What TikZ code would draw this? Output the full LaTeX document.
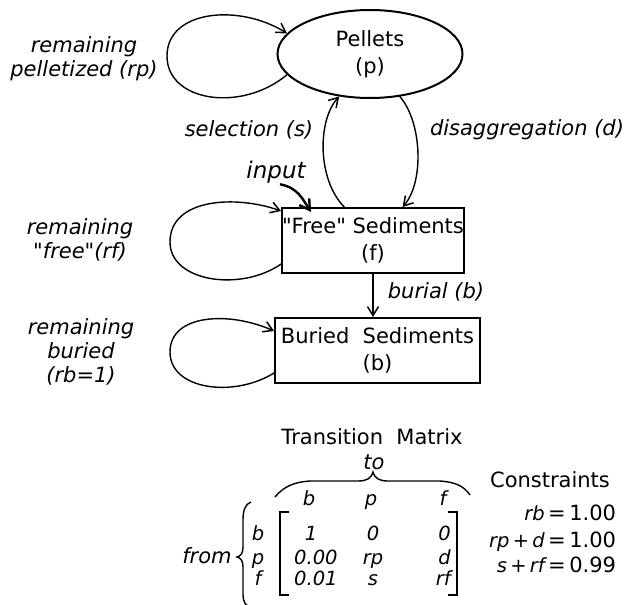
\documentclass[tikz,border=0pt]{standalone}
\usepackage{fontspec}
\setmainfont{DejaVu Sans}
\usetikzlibrary{shapes.geometric,arrows.meta,calc}
\begin{document}
\begin{tikzpicture}[x=1pt,y=1pt,
  outline/.style={draw, line width=2pt, inner sep=0pt},
  link/.style={line width=1.4pt, -{Straight Barb[length=9pt,width=11pt,line width=1.5pt]}},
  feed/.style={line width=2.4pt, -{Straight Barb[length=10pt,width=12pt,line width=2.4pt]}},
  bracket/.style={line width=1.9pt},
  upr/.style={font=\fontsize{21}{27}\selectfont, align=center, inner sep=0pt},
  lab/.style={font=\fontsize{21}{24}\selectfont\itshape, align=center, inner sep=0pt},
  cell/.style={font=\fontsize{19.5}{23}\selectfont\itshape, inner sep=0pt, anchor=base},
]
\useasboundingbox (0,-605) rectangle (633,0);

% compartments
\node[outline, ellipse, minimum width=185pt, minimum height=88pt, upr] (p) at (370,-54) {Pellets\\(p)};
\node[outline, rectangle, minimum width=180pt, minimum height=65pt, upr] (f) at (373,-240.5) {\textquotedbl Free\textquotedbl\ Sediments\\(f)};
\node[outline, rectangle, minimum width=205pt, minimum height=65pt, upr] (b) at (377.5,-350.5) {Buried\ \ Sediments\\(b)};

% outer turning points of the self loops
\coordinate (pleft) at (167,-56);
\coordinate (fleft) at (170,-242);
\coordinate (bleft) at (170,-352);

% self loops
\draw[link] (p.194.5) .. controls +(-45,-38) and +(0,-46) .. (pleft)
  .. controls +(0,46) and +(-48,30) .. (p.166);
\draw[link] ($(f.south west)+(0,10)$) .. controls +(-40,-28) and +(0,-40) .. (fleft)
  .. controls +(0,44) and +(-45,16) .. ($(f.north west)+(0,-4)$);
\draw[link] ($(b.south west)+(0,11)$) .. controls +(-40,-25) and +(0,-38) .. (bleft)
  .. controls +(0,38) and +(-45,20) .. ($(b.north west)+(0,-14)$);

% transfers between compartments
\draw[link] ($(f.north west)!0.344!(f.north east)$) .. controls +(-27,27) and +(-22,-24) .. (p.234);
\draw[link] (p.305) .. controls +(22,-25) and +(22,25) .. ($(f.north west)!0.661!(f.north east)$);
\draw[link] (f.south) -- (f.south |- b.north);

% input
\node[lab, font=\fontsize{23}{26}\selectfont\itshape] (in) at (276,-172) {input};
\draw[feed] ($(in.south)+(4,-1)$) .. controls +(18,-3) and +(-8,12) .. ($(f.north west)+(30,-5)$);

% labels
\node[lab] (lrp) at (84,-59) {remaining\\pelletized (rp)};
\node[lab] (lrf) at (80,-240) {remaining\\\textquotedbl free\textquotedbl(rf)};
\node[lab] (lrb) at (81,-352) {remaining\\buried\\(rb=1)};
\node[lab] (ls) at (249,-130) {selection (s)};
\node[lab] (ld) at (527,-130) {disaggregation (d)};
\node[lab] (lb) at (436,-292) {burial (b)};

% transition matrix
\node[upr] (tm) at (372,-437) {Transition\ \ Matrix};
\node[lab] (to) at (374,-462) {to};
\draw[line width=1.4pt] (275,-497) .. controls (284,-486) and (295,-482) .. (310,-481) -- (358,-481)
  .. controls (366,-481) and (371,-479) .. (373,-472)
  .. controls (375,-479) and (380,-481) .. (388,-481) -- (440,-481)
  .. controls (455,-482) and (464,-486) .. (470,-495);

\node[cell] (cb) at (309,-505) {b};
\node[cell] (cp) at (371,-505) {p};
\node[cell] (cf) at (443,-505) {f};

\node[cell] (rb) at (258,-540) {b};
\node[cell] (rp) at (258,-564) {p};
\node[cell] (rf) at (258,-585) {f};

\node[cell] (m11) at (311,-540) {1};
\node[cell, anchor=base west] (m21) at (294,-564) {0.00};
\node[cell, anchor=base west] (m31) at (294,-585) {0.01};
\node[cell] (m12) at (373,-540) {0};
\node[cell] (m22) at (373,-564) {rp};
\node[cell] (m32) at (373,-585) {s};
\node[cell, anchor=base east] (m13) at (451,-540) {0};
\node[cell, anchor=base east] (m23) at (451,-564) {d};
\node[cell, anchor=base east] (m33) at (451,-585) {rf};

\draw[bracket] (289,-512) -- (280,-512) -- (280,-595) -- (289,-595);
\draw[bracket] (448,-512) -- (457,-512) -- (457,-595) -- (448,-595);

\node[lab] (from) at (207,-556) {from};
\draw[line width=1.4pt] (251,-502) .. controls (245,-504) and (243,-511) .. (243,-520) -- (243,-547)
  .. controls (243,-553) and (241,-556) .. (237,-557)
  .. controls (241,-558) and (243,-561) .. (243,-567) -- (243,-595)
  .. controls (243,-602) and (246,-606) .. (251,-608);

% constraints
\node[upr] (ct) at (550,-480) {Constraints};
\node[cell, anchor=base east] (c1l) at (545,-520) {rb};
\node[cell, anchor=base east] (c2l) at (545,-547) {rp\,+\,d};
\node[cell, anchor=base east] (c3l) at (545,-572) {s\,+\,rf};
\node[upr, anchor=base west] (c1r) at (548,-520) {=\,1.00};
\node[upr, anchor=base west] (c2r) at (548,-547) {=\,1.00};
\node[upr, anchor=base west] (c3r) at (548,-572) {=\,0.99};
\end{tikzpicture}
\end{document}
